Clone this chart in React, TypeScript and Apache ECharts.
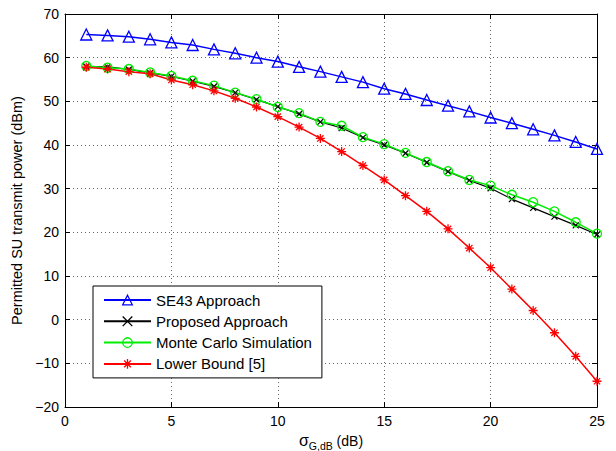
import React, { useEffect, useRef } from 'react';
import * as echarts from 'echarts';

const xValues = [1, 2, 3, 4, 5, 6, 7, 8, 9, 10, 11, 12, 13, 14, 15, 16, 17, 18, 19, 20, 21, 22, 23, 24, 25];
const se43 = [65.3, 65.1, 64.8, 64.2, 63.5, 62.9, 61.9, 61.0, 60.0, 59.1, 57.9, 56.8, 55.6, 54.4, 52.9, 51.7, 50.3, 49.0, 47.7, 46.3, 45.0, 43.6, 42.2, 40.7, 39.1];
const proposed = [58.0, 57.9, 57.3, 56.5, 55.7, 54.6, 53.4, 52.0, 50.4, 48.8, 47.1, 45.3, 43.9, 41.7, 40.0, 38.1, 36.0, 33.9, 31.9, 30.1, 27.6, 25.6, 23.6, 21.6, 19.5];
const monteCarlo = [58.1, 57.7, 57.4, 56.6, 55.8, 54.7, 53.6, 52.0, 50.5, 48.7, 47.3, 45.3, 44.4, 41.8, 40.2, 38.2, 36.1, 34.0, 32.0, 30.7, 28.6, 26.9, 24.8, 22.3, 19.7];
const lowerBound = [57.8, 57.4, 56.8, 56.3, 54.9, 53.8, 52.4, 50.7, 48.7, 46.5, 44.1, 41.5, 38.5, 35.3, 32.0, 28.4, 24.8, 20.8, 16.4, 11.9, 7.0, 2.1, -3.0, -8.4, -14.1];
const seriesNames = ['SE43 Approach', 'Proposed Approach', 'Monte Carlo Simulation', 'Lower Bound [5]'];

const FONT = "'Liberation Sans', Arial, Helvetica, sans-serif";
const X_SYMBOL = 'path://M0,0L10,10M10,0L0,10';
const STAR_SYMBOL = 'path://M5,0L5,10M0,5L10,5M1.5,1.5L8.5,8.5M8.5,1.5L1.5,8.5';

const pairs = (ys: number[]) => xValues.map((x, i) => [x, ys[i]]);

const fmtY = (v: number) => (v < 0 ? '\u2212' + Math.abs(v) : String(v));

export default function App() {
  const ref = useRef<HTMLDivElement>(null);
  useEffect(() => {
    const chart = echarts.init(ref.current!, null, { renderer: 'svg' });
    const gridLine = { show: true, lineStyle: { color: '#666', width: 1, type: [1, 3] as any } };
    const mkSeries = (name: string, ys: number[], color: string, symbol: string, size: number, lw: number, bw: number) => ({
      name,
      type: 'line',
      data: pairs(ys),
      symbol,
      symbolSize: size,
      showSymbol: true,
      lineStyle: { color, width: lw },
      itemStyle: { color: 'none', borderColor: color, borderWidth: bw },
      emphasis: { disabled: true },
      xAxisIndex: 0,
      yAxisIndex: 0,
    });
    chart.setOption({
      animation: false,
      backgroundColor: '#fff',
      grid: { left: 65, right: 19, top: 14, bottom: 44, containLabel: false, outerBoundsMode: 'none' },
      legend: {
        data: seriesNames,
        orient: 'vertical',
        left: 93,
        top: 286,
        itemWidth: 47,
        itemHeight: 12,
        itemGap: 6.3,
        padding: [6.5, 10, 6.5, 10],
        borderColor: '#000',
        borderWidth: 1,
        borderRadius: 0,
        backgroundColor: '#fff',
        textStyle: { fontSize: 15, fontFamily: FONT, color: '#000' },
        itemStyle: { borderWidth: 1.3 },
      },
      xAxis: [
        {
          type: 'value', min: 0, max: 25, interval: 5,
          axisLine: { show: true, onZero: false, lineStyle: { color: '#000', width: 1 } },
          axisTick: { show: true, inside: true, length: 5, lineStyle: { color: '#000' } },
          axisLabel: { fontSize: 14, fontFamily: FONT, color: '#000', margin: 7 },
          splitLine: gridLine,
          name: '{a|\u03c3}{b|G,dB}{c| (dB)}',
          nameLocation: 'middle',
          nameGap: 18,
          nameTextStyle: {
            color: '#000',
            rich: {
              a: { fontSize: 16, fontFamily: FONT, color: '#000' },
              b: { fontSize: 10.5, fontFamily: FONT, color: '#000', padding: [11, 0, 0, 0] },
              c: { fontSize: 14, fontFamily: FONT, color: '#000' },
            },
          },
        },
        {
          type: 'value', min: 0, max: 25, interval: 5, position: 'top',
          axisLine: { show: true, onZero: false, lineStyle: { color: '#000', width: 1 } },
          axisTick: { show: true, inside: true, length: 5, lineStyle: { color: '#000' } },
          axisLabel: { show: false },
          splitLine: { show: false },
        },
      ],
      yAxis: [
        {
          type: 'value', min: -20, max: 70, interval: 10,
          axisLine: { show: true, onZero: false, lineStyle: { color: '#000', width: 1 } },
          axisTick: { show: true, inside: true, length: 5, lineStyle: { color: '#000' } },
          axisLabel: { fontSize: 14, fontFamily: FONT, color: '#000', margin: 6, formatter: fmtY },
          splitLine: gridLine,
          name: 'Permitted SU transmit power (dBm)',
          nameLocation: 'middle',
          nameGap: 31,
          nameTextStyle: { fontSize: 14.5, fontFamily: FONT, color: '#000' },
        },
        {
          type: 'value', min: -20, max: 70, interval: 10, position: 'right',
          axisLine: { show: true, onZero: false, lineStyle: { color: '#000', width: 1 } },
          axisTick: { show: true, inside: true, length: 5, lineStyle: { color: '#000' } },
          axisLabel: { show: false },
          splitLine: { show: false },
        },
      ],
      series: [
        mkSeries(seriesNames[0], se43, '#0000ff', 'triangle', 11, 1.5, 1.3),
        mkSeries(seriesNames[1], proposed, '#000000', X_SYMBOL, 6, 1.2, 1.2),
        mkSeries(seriesNames[2], monteCarlo, '#00ee00', 'circle', 9, 1.5, 1.3),
        mkSeries(seriesNames[3], lowerBound, '#ff0000', STAR_SYMBOL, 9, 1.5, 1.3),
      ],
    });
    return () => chart.dispose();
  }, []);
  return <div ref={ref} style={{ position: 'fixed', left: 0, top: 0, width: 616, height: 451 }} />;
}
